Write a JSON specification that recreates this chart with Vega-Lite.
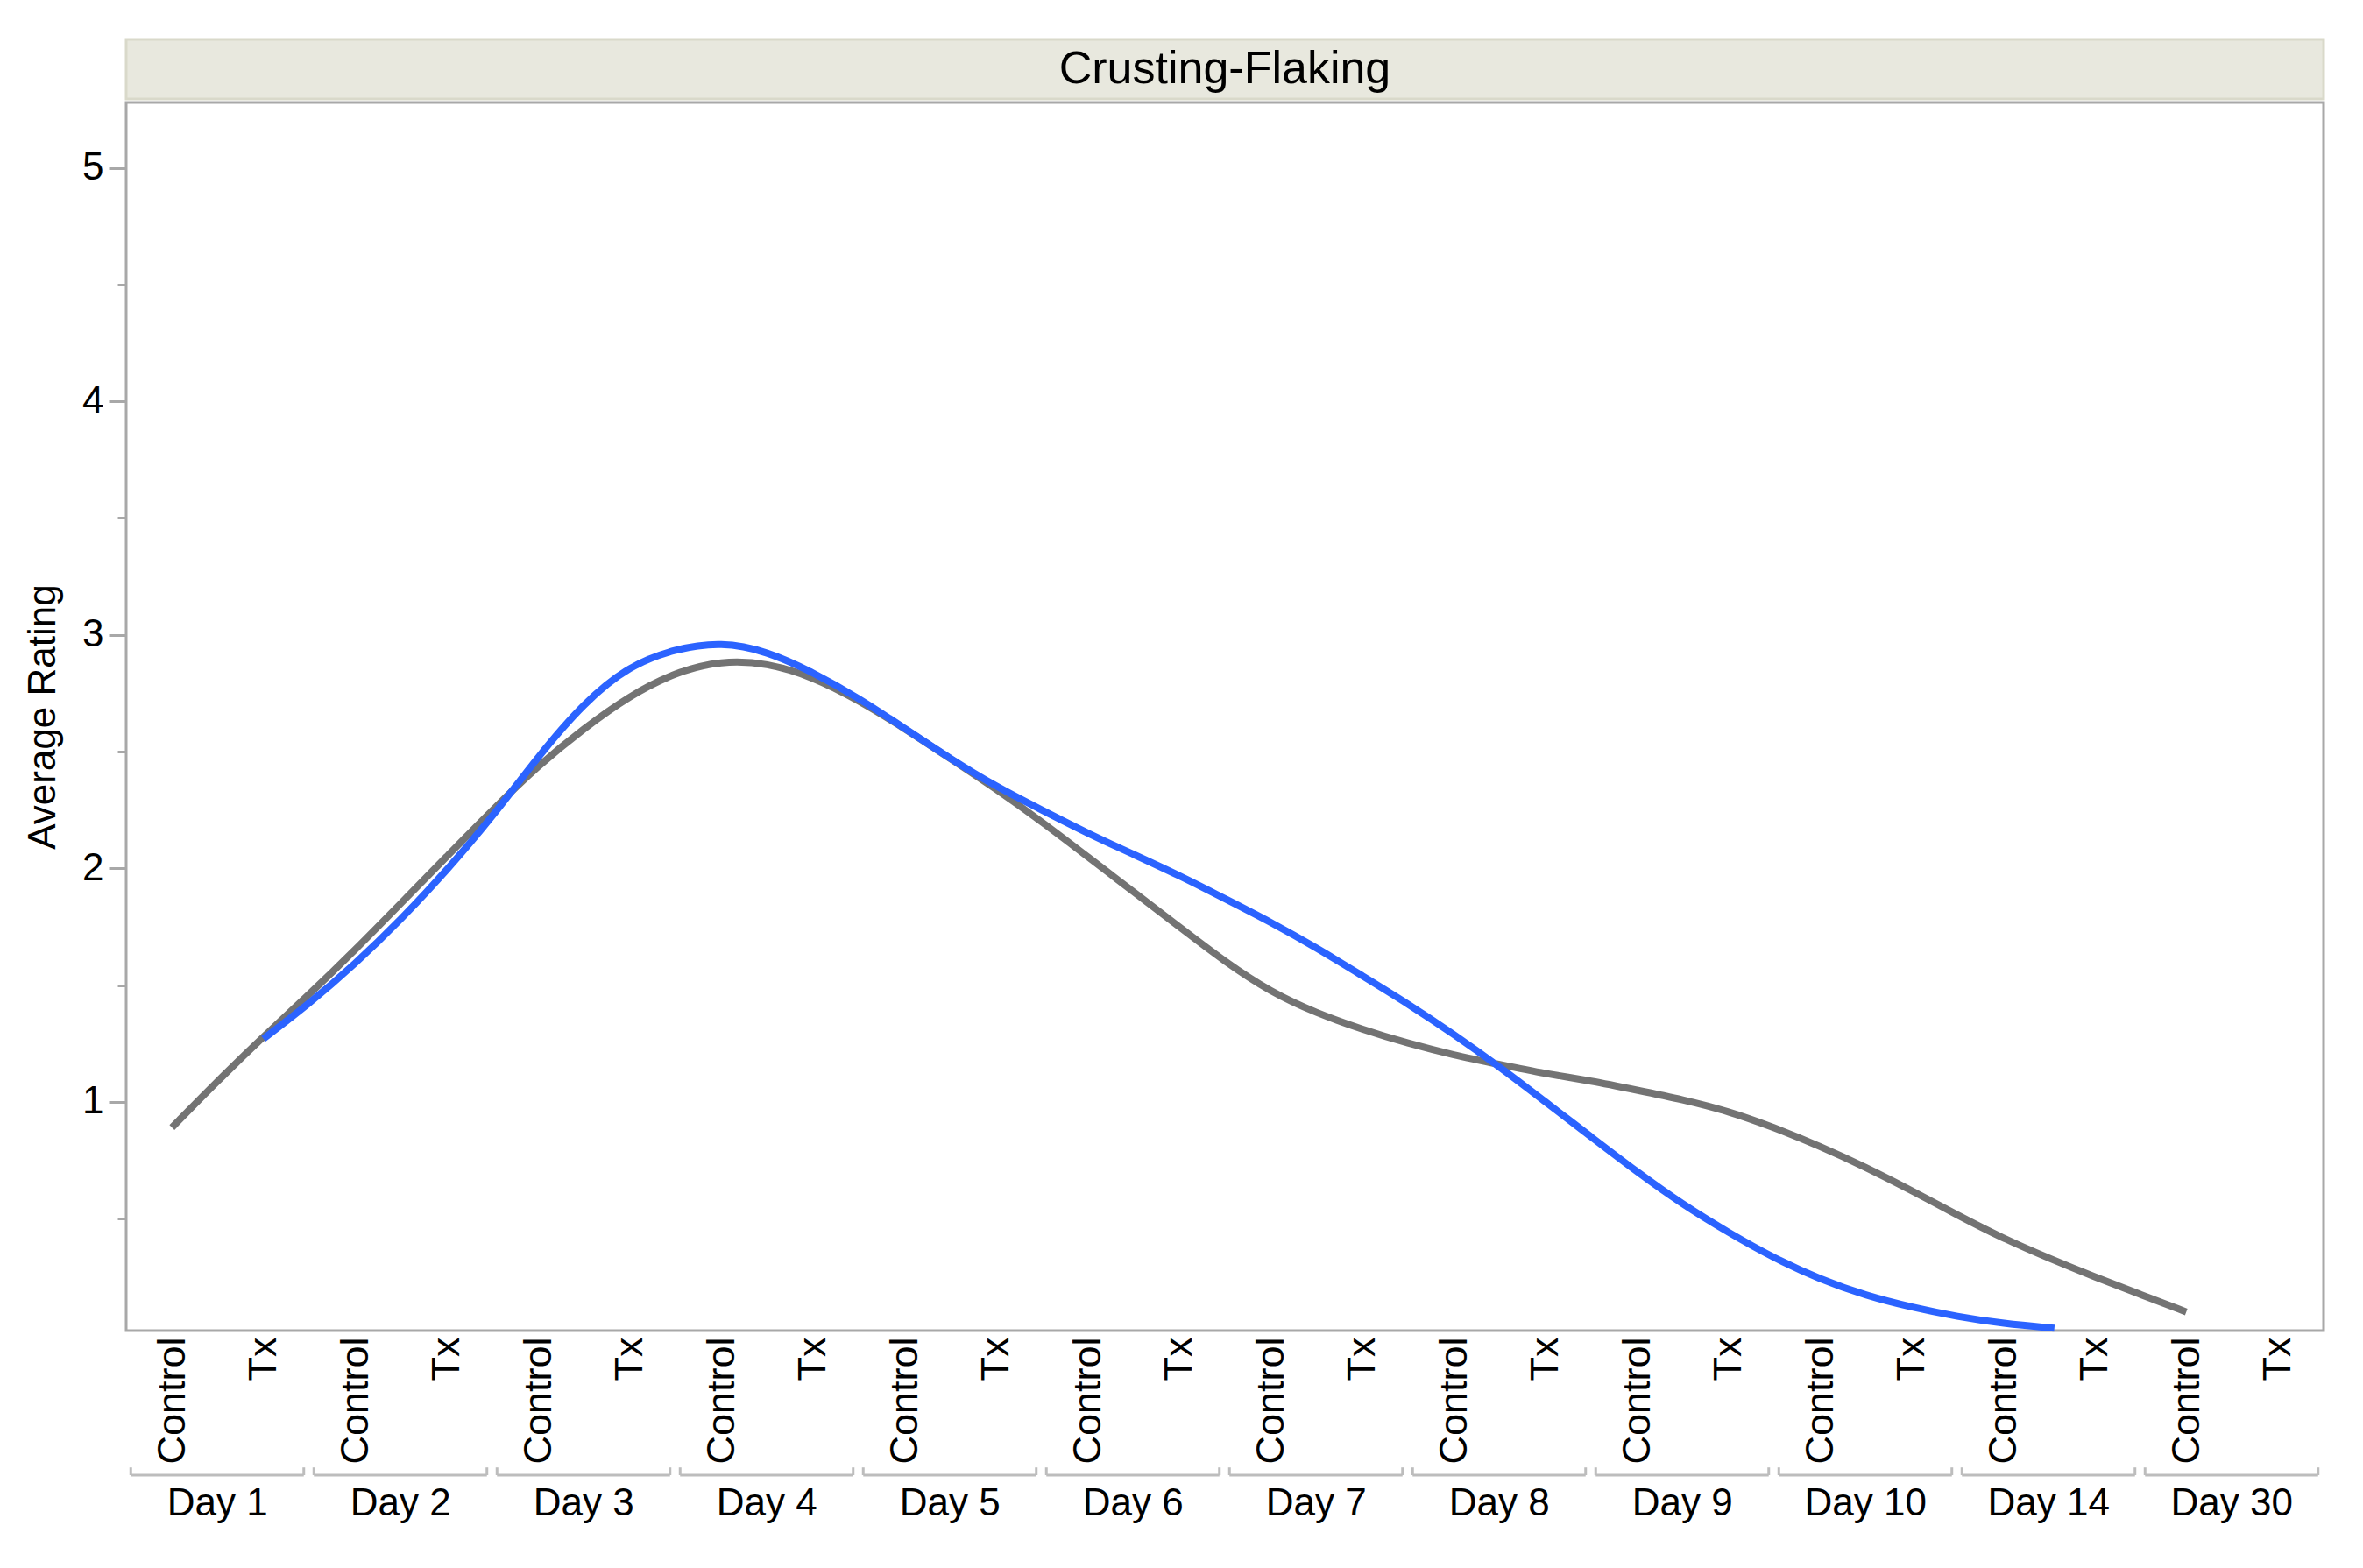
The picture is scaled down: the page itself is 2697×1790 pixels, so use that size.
{
  "$schema": "https://vega.github.io/schema/vega-lite/v6.json",
  "description": "Crusting-Flaking average rating by day, Control vs Tx (smoothed)",
  "background": "white",
  "padding": {"left": 26, "top": 43, "right": 0, "bottom": 0},
  "spacing": 0,
  "config": {"font": "Liberation Sans", "view": {"stroke": null}},
  "vconcat": [
    {
      "width": 2508,
      "height": 68,
      "view": {"fill": "#E8E8DE", "stroke": "#D9D9CA", "strokeWidth": 3},
      "data": {"values": [{"panel": "Crusting-Flaking"}]},
      "mark": {"type": "text", "fontSize": 52, "color": "black"},
      "encoding": {"text": {"field": "panel"}}
    },
    {
      "width": 2508,
      "height": 1402,
      "view": {"stroke": "#A8A8A8", "strokeWidth": 3},
      "data": {
        "values": [
          {"group": "Control", "pos": 0, "rating": 0.89},
          {"group": "Control", "pos": 0.5, "rating": 1.09},
          {"group": "Control", "pos": 1, "rating": 1.28},
          {"group": "Control", "pos": 1.5, "rating": 1.46},
          {"group": "Control", "pos": 2, "rating": 1.65},
          {"group": "Control", "pos": 2.5, "rating": 1.85},
          {"group": "Control", "pos": 3, "rating": 2.05},
          {"group": "Control", "pos": 3.5, "rating": 2.25},
          {"group": "Control", "pos": 4, "rating": 2.44},
          {"group": "Control", "pos": 4.5, "rating": 2.6},
          {"group": "Control", "pos": 5, "rating": 2.74},
          {"group": "Control", "pos": 5.5, "rating": 2.84},
          {"group": "Control", "pos": 6, "rating": 2.89},
          {"group": "Control", "pos": 6.5, "rating": 2.88},
          {"group": "Control", "pos": 7, "rating": 2.82},
          {"group": "Control", "pos": 7.5, "rating": 2.72},
          {"group": "Control", "pos": 8, "rating": 2.6},
          {"group": "Control", "pos": 8.5, "rating": 2.47},
          {"group": "Control", "pos": 9, "rating": 2.34},
          {"group": "Control", "pos": 9.5, "rating": 2.2},
          {"group": "Control", "pos": 10, "rating": 2.05},
          {"group": "Control", "pos": 10.5, "rating": 1.9},
          {"group": "Control", "pos": 11, "rating": 1.75},
          {"group": "Control", "pos": 11.5, "rating": 1.6},
          {"group": "Control", "pos": 12, "rating": 1.47},
          {"group": "Control", "pos": 12.5, "rating": 1.38},
          {"group": "Control", "pos": 13, "rating": 1.31},
          {"group": "Control", "pos": 13.5, "rating": 1.25},
          {"group": "Control", "pos": 14, "rating": 1.2},
          {"group": "Control", "pos": 14.5, "rating": 1.16},
          {"group": "Control", "pos": 15, "rating": 1.12},
          {"group": "Control", "pos": 15.5, "rating": 1.09},
          {"group": "Control", "pos": 16, "rating": 1.05},
          {"group": "Control", "pos": 16.5, "rating": 1.01},
          {"group": "Control", "pos": 17, "rating": 0.96},
          {"group": "Control", "pos": 17.5, "rating": 0.89},
          {"group": "Control", "pos": 18, "rating": 0.81},
          {"group": "Control", "pos": 18.5, "rating": 0.72},
          {"group": "Control", "pos": 19, "rating": 0.62},
          {"group": "Control", "pos": 19.5, "rating": 0.515},
          {"group": "Control", "pos": 20, "rating": 0.415},
          {"group": "Control", "pos": 20.5, "rating": 0.33},
          {"group": "Control", "pos": 21, "rating": 0.25},
          {"group": "Control", "pos": 21.5, "rating": 0.175},
          {"group": "Control", "pos": 22, "rating": 0.1},
          {"group": "Tx", "pos": 1, "rating": 1.27},
          {"group": "Tx", "pos": 1.5, "rating": 1.42},
          {"group": "Tx", "pos": 2, "rating": 1.59},
          {"group": "Tx", "pos": 2.5, "rating": 1.78},
          {"group": "Tx", "pos": 3, "rating": 1.99},
          {"group": "Tx", "pos": 3.5, "rating": 2.22},
          {"group": "Tx", "pos": 4, "rating": 2.48},
          {"group": "Tx", "pos": 4.5, "rating": 2.71},
          {"group": "Tx", "pos": 5, "rating": 2.87},
          {"group": "Tx", "pos": 5.5, "rating": 2.94},
          {"group": "Tx", "pos": 6, "rating": 2.97},
          {"group": "Tx", "pos": 6.5, "rating": 2.93},
          {"group": "Tx", "pos": 7, "rating": 2.84},
          {"group": "Tx", "pos": 7.5, "rating": 2.73},
          {"group": "Tx", "pos": 8, "rating": 2.6},
          {"group": "Tx", "pos": 8.5, "rating": 2.47},
          {"group": "Tx", "pos": 9, "rating": 2.35},
          {"group": "Tx", "pos": 9.5, "rating": 2.25},
          {"group": "Tx", "pos": 10, "rating": 2.15},
          {"group": "Tx", "pos": 10.5, "rating": 2.06},
          {"group": "Tx", "pos": 11, "rating": 1.97},
          {"group": "Tx", "pos": 11.5, "rating": 1.87},
          {"group": "Tx", "pos": 12, "rating": 1.77},
          {"group": "Tx", "pos": 12.5, "rating": 1.66},
          {"group": "Tx", "pos": 13, "rating": 1.54},
          {"group": "Tx", "pos": 13.5, "rating": 1.42},
          {"group": "Tx", "pos": 14, "rating": 1.29},
          {"group": "Tx", "pos": 14.5, "rating": 1.15},
          {"group": "Tx", "pos": 15, "rating": 1.0},
          {"group": "Tx", "pos": 15.5, "rating": 0.85},
          {"group": "Tx", "pos": 16, "rating": 0.7},
          {"group": "Tx", "pos": 16.5, "rating": 0.56},
          {"group": "Tx", "pos": 17, "rating": 0.44},
          {"group": "Tx", "pos": 17.5, "rating": 0.33},
          {"group": "Tx", "pos": 18, "rating": 0.24},
          {"group": "Tx", "pos": 18.5, "rating": 0.17},
          {"group": "Tx", "pos": 19, "rating": 0.12},
          {"group": "Tx", "pos": 19.5, "rating": 0.08},
          {"group": "Tx", "pos": 20, "rating": 0.05},
          {"group": "Tx", "pos": 20.56, "rating": 0.03}
        ]
      },
      "mark": {"type": "line", "interpolate": "basis", "strokeWidth": 8, "strokeCap": "butt"},
      "encoding": {
        "x": {
          "field": "pos",
          "type": "quantitative",
          "scale": {"domain": [-0.5, 23.5], "nice": false, "zero": false},
          "axis": {
            "values": [0, 1, 2, 3, 4, 5, 6, 7, 8, 9, 10, 11, 12, 13, 14, 15, 16, 17, 18, 19, 20, 21, 22, 23],
            "labelExpr": "datum.value % 2 == 0 ? 'Control' : 'Tx'",
            "labelAngle": -90,
            "labelFontSize": 45,
            "labelColor": "black",
            "labelPadding": 7,
            "labelOverlap": false,
            "labelFlush": false,
            "labelBound": false,
            "ticks": false,
            "domain": false,
            "grid": false,
            "title": null
          }
        },
        "y": {
          "field": "rating",
          "type": "quantitative",
          "scale": {"domain": [0.02, 5.28], "nice": false, "zero": false},
          "axis": {
            "values": [0.5, 1, 1.5, 2, 2.5, 3, 3.5, 4, 4.5, 5],
            "labelExpr": "datum.value % 1 == 0 ? format(datum.value, 'd') : ''",
            "labelFontSize": 44,
            "labelColor": "black",
            "labelPadding": 6,
            "tickSize": {"condition": {"test": "datum.value % 1 != 0", "value": 10}, "value": 20},
            "tickColor": "#A8A8A8",
            "tickWidth": 3,
            "domain": false,
            "grid": false,
            "title": "Average Rating",
            "titleFontSize": 44,
            "titleFontWeight": "normal",
            "titleColor": "black",
            "titlePadding": 22
          }
        },
        "color": {
          "field": "group",
          "type": "nominal",
          "scale": {"domain": ["Control", "Tx"], "range": ["#737373", "#2B63FF"]},
          "legend": null
        }
      }
    },
    {
      "width": 2508,
      "height": 110,
      "data": {
        "values": [
          {"day": "Day 1", "control": 0, "tx": 1},
          {"day": "Day 2", "control": 2, "tx": 3},
          {"day": "Day 3", "control": 4, "tx": 5},
          {"day": "Day 4", "control": 6, "tx": 7},
          {"day": "Day 5", "control": 8, "tx": 9},
          {"day": "Day 6", "control": 10, "tx": 11},
          {"day": "Day 7", "control": 12, "tx": 13},
          {"day": "Day 8", "control": 14, "tx": 15},
          {"day": "Day 9", "control": 16, "tx": 17},
          {"day": "Day 10", "control": 18, "tx": 19},
          {"day": "Day 14", "control": 20, "tx": 21},
          {"day": "Day 30", "control": 22, "tx": 23}
        ]
      },
      "layer": [
        {
          "mark": {"type": "rule", "color": "#BDBDBD", "strokeWidth": 3, "xOffset": -47, "x2Offset": 46},
          "encoding": {
            "x": {"field": "control", "type": "quantitative", "scale": {"domain": [-0.5, 23.5], "nice": false, "zero": false}, "axis": null},
            "x2": {"field": "tx"},
            "y": {"datum": 0.9, "type": "quantitative", "scale": {"domain": [0, 1], "nice": false, "zero": false}, "axis": null}
          }
        },
        {
          "mark": {"type": "rule", "color": "#BDBDBD", "strokeWidth": 3, "xOffset": -47},
          "encoding": {
            "x": {"field": "control", "type": "quantitative"},
            "y": {"datum": 0.9, "type": "quantitative"},
            "y2": {"datum": 0.98}
          }
        },
        {
          "mark": {"type": "rule", "color": "#BDBDBD", "strokeWidth": 3, "xOffset": 46},
          "encoding": {
            "x": {"field": "tx", "type": "quantitative"},
            "y": {"datum": 0.9, "type": "quantitative"},
            "y2": {"datum": 0.98}
          }
        },
        {
          "mark": {"type": "text", "fontSize": 44, "color": "black", "xOffset": 52, "baseline": "middle"},
          "encoding": {
            "x": {"field": "control", "type": "quantitative"},
            "y": {"datum": 0.6, "type": "quantitative"},
            "text": {"field": "day"}
          }
        }
      ]
    }
  ]
}
